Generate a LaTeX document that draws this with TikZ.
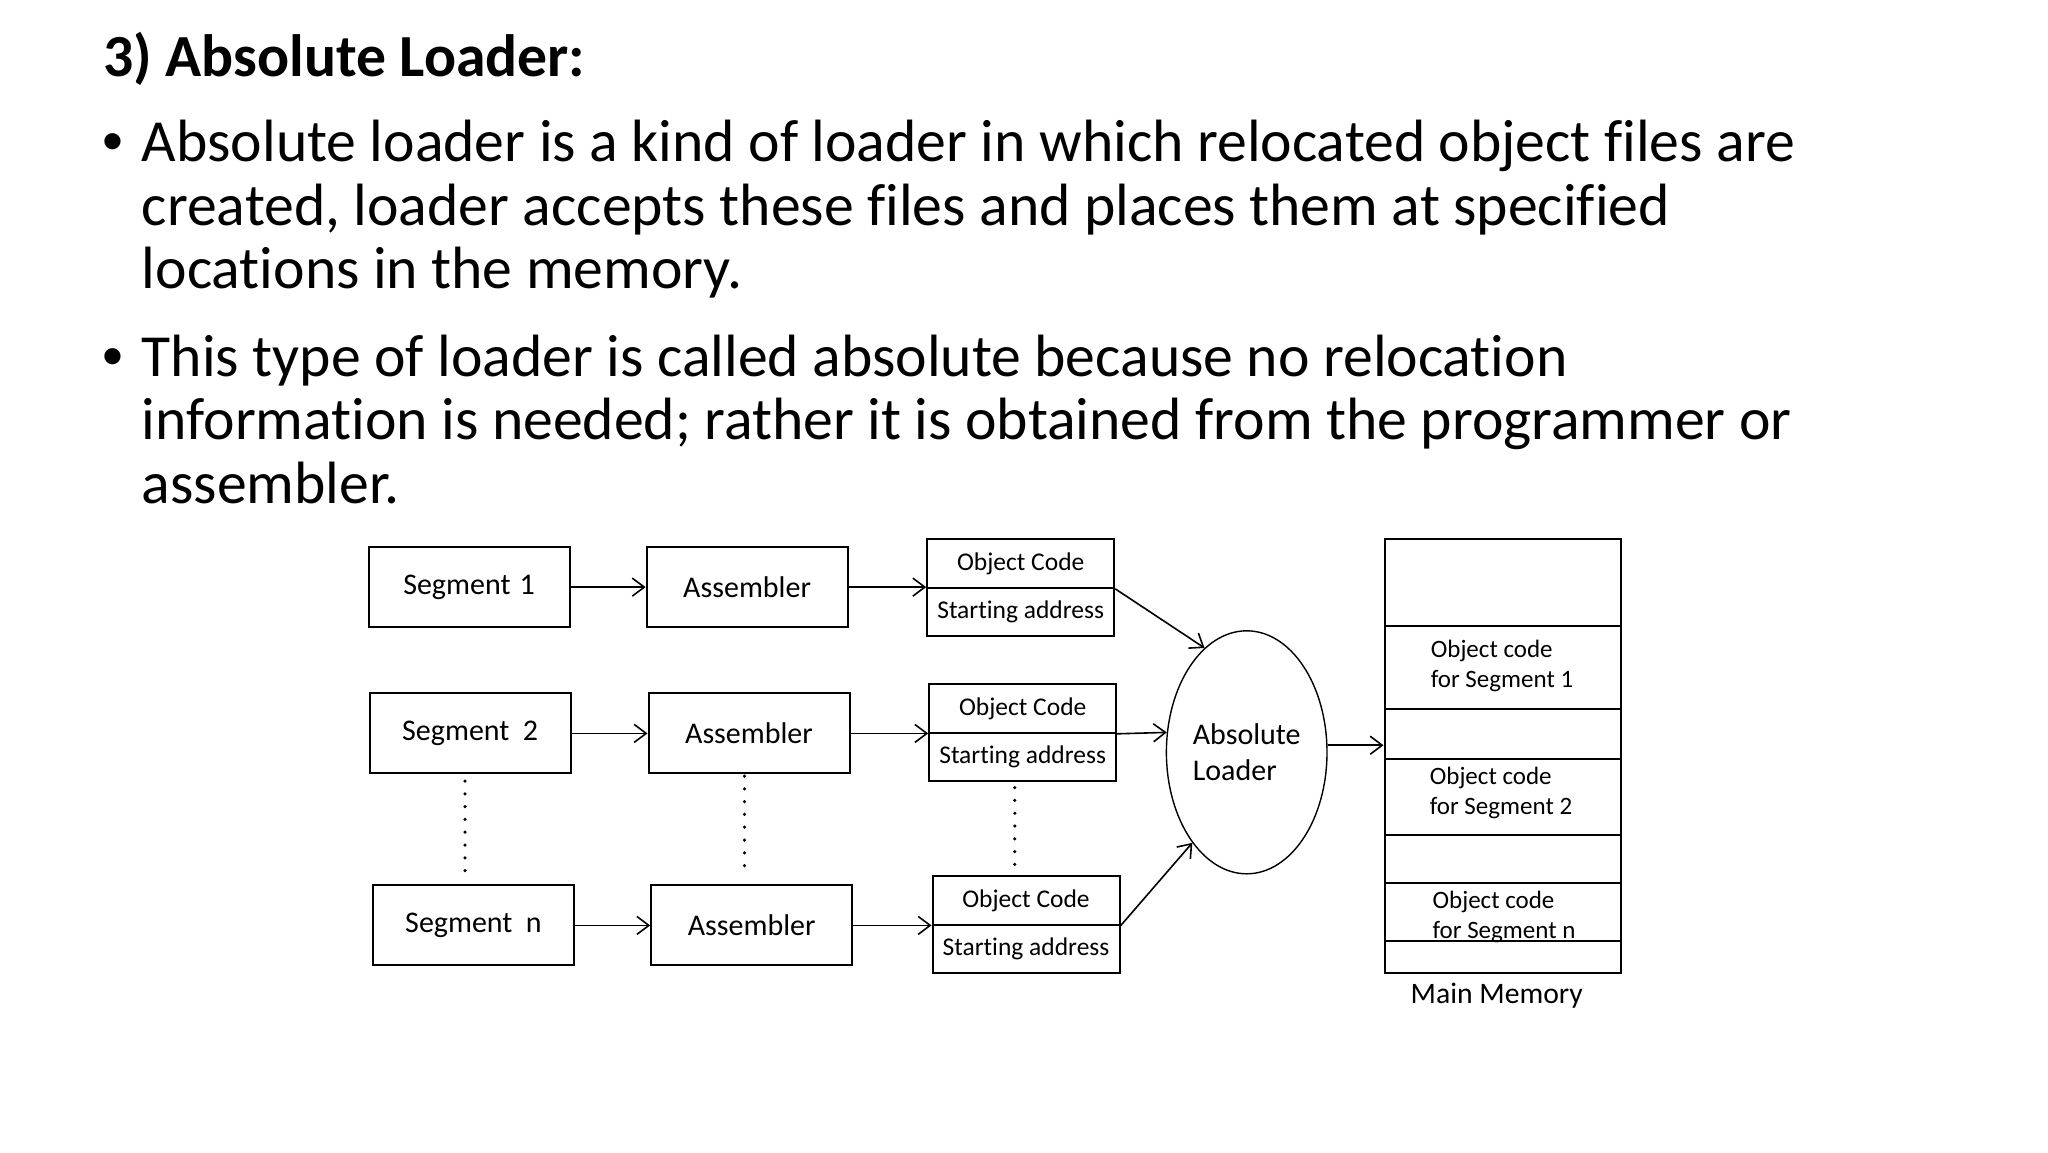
\documentclass[tikz,border=0pt]{standalone}
\usepackage{fontspec}
\setmainfont[RawFeature={-liga}]{Carlito}
\newfontfamily\bulletfont{Liberation Sans}
\usetikzlibrary{arrows.meta,shapes.geometric,calc}
\begin{document}
\begin{tikzpicture}[x=1pt,y=-1pt,
  box/.style={draw,line width=2pt,minimum width=201pt,minimum height=80pt,inner sep=0pt,font=\fontsize{30}{36}\selectfont},
  obox/.style={draw,line width=2pt,minimum width=187pt,minimum height=48.4pt,inner sep=0pt,font=\fontsize{25.5}{30}\selectfont},
  cell/.style={draw,line width=2pt,minimum width=236.4pt,inner sep=0pt},
  mtext/.style={inner sep=0pt,align=left,font=\fontsize{25}{30}\selectfont},
  arr/.style={line width=1.6pt,-{Straight Barb[length=12pt,width=18pt,line width=1.6pt]}},
  body/.style={anchor=base west,inner sep=0pt,font=\fontsize{59.7}{72}\selectfont},
  bul/.style={anchor=base west,inner sep=0pt,font=\fontsize{59.7}{72}\bulletfont},
  dotline/.style={line width=3.5pt,line cap=round,dash pattern=on 0pt off 12.8pt},
]
\useasboundingbox[fill=white] (0,0) rectangle (2048,1152);

% ---- slide text ----
\node[body,font=\fontsize{59.7}{72}\selectfont\bfseries] (title) at (103,76) {3) Absolute Loader:};
\node[bul] (b1) at (102,161.7) {•};
\node[body] (l1) at (141.7,161.7) {Absolute loader is a kind of loader in which relocated object files are};
\node[body] (l2) at (141.7,225) {created, loader accepts these files and places them at specified};
\node[body] (l3) at (141.7,288.3) {locations in the memory.};
\node[bul] (b2) at (102,376) {•};
\node[body] (l4) at (141.7,376) {This type of loader is called absolute because no relocation};
\node[body] (l5) at (141.7,439.3) {information is needed; rather it is obtained from the programmer or};
\node[body] (l6) at (141.7,503.3) {assembler.};

% ---- row 1 ----
\node[box] (seg1) at (469,587.1) {Segment\hspace{0.3em}1};
\node[box] (asm1) at (747.1,587.1) {Assembler};
\node[obox] (obj1a) at (1020.7,563.6) {Object Code};
\node[obox] (obj1b) at (1020.7,611.9) {Starting address};
% ---- row 2 ----
\node[box] (seg2) at (470.2,733.4) {Segment\hspace{0.45em}2};
\node[box] (asm2) at (749,733.4) {Assembler};
\node[obox] (obj2a) at (1022.7,708.6) {Object Code};
\node[obox] (obj2b) at (1022.7,756.9) {Starting address};
% ---- row n ----
\node[box] (segn) at (473.5,925.4) {Segment\hspace{0.45em}n};
\node[box] (asmn) at (751.7,925.4) {Assembler};
\node[obox] (objna) at (1026,900.6) {Object Code};
\node[obox] (objnb) at (1026,948.9) {Starting address};

% ---- absolute loader ----
\node[ellipse,draw,line width=1.4pt,minimum width=160.6pt,minimum height=243pt,inner sep=0pt,
      align=left,font=\fontsize{30}{36.6}\selectfont] (ell) at (1246.7,752.3) {Absolute\\Loader};

% ---- main memory ----
\node[cell,minimum height=86.6pt] (m1) at (1502.7,582.7) {};
\node[cell,minimum height=83.3pt] (m2) at (1502.7,667.65) {};
\node[cell,minimum height=49.4pt] (m3) at (1502.7,734) {};
\node[cell,minimum height=76.6pt] (m4) at (1502.7,797) {};
\node[cell,minimum height=48pt] (m5) at (1502.7,859.3) {};
\node[cell,minimum height=57.7pt] (m6) at (1502.7,912.15) {};
\node[cell,minimum height=32pt] (m7) at (1502.7,957) {};
\node[mtext] (t1) at (1502,666) {Object code\\for Segment 1};
\node[mtext] (t2) at (1501,793) {Object code\\for Segment 2};
\node[mtext] (tn) at (1504,916.5) {Object code\\for Segment n};
\node[inner sep=0pt,font=\fontsize{29.7}{36}\selectfont] (mml) at (1496.8,995.2) {Main Memory};

% ---- connectors ----
\draw[arr] (seg1.east) -- (asm1.west);
\draw[arr] (asm1.east) -- (asm1.east -| obj1a.west);
\draw[arr] (seg2.east) -- (asm2.west);
\draw[arr] (asm2.east) -- (asm2.east -| obj2a.west);
\draw[arr] (segn.east) -- (asmn.west);
\draw[arr] (asmn.east) -- (asmn.east -| objna.west);
\draw[arr] (obj1a.south east) -- (ell.112.4);
\draw[arr] (obj2a.south east) -- (ell.166);
\draw[arr] (objna.south east) -- (ell.239.9);
\draw[arr] (ell.5) -- (ell.5 -| m3.west);

% ---- dotted continuation lines ----
\coordinate (d1a) at (465,781);   \coordinate (d1b) at (465,871);
\coordinate (d2a) at (744.5,776); \coordinate (d2b) at (744.5,871);
\coordinate (d3a) at (1014.8,787.6); \coordinate (d3b) at (1014.8,867);
\draw[dotline] (d1a) -- (d1b);
\draw[dotline] (d2a) -- (d2b);
\draw[dotline] (d3a) -- (d3b);
\end{tikzpicture}
\end{document}
